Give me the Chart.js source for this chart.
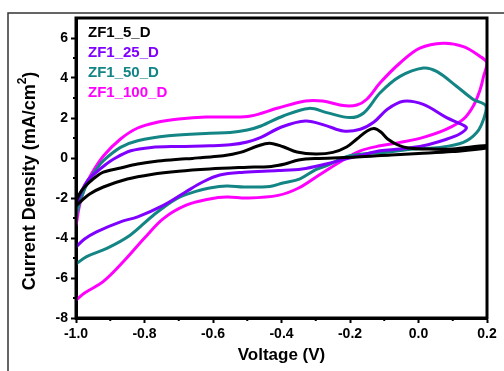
<!DOCTYPE html>
<html>
<head>
<meta charset="utf-8">
<script src="https://cdn.jsdelivr.net/npm/chart.js@4.4.1/dist/chart.umd.min.js"></script>
<style>
  html, body { margin: 0; padding: 0; background: #fff; }
  canvas { display: block; }
</style>
</head>
<body>
<canvas id="myChart" width="504" height="371"></canvas>
<script>
const seriesNames = ['ZF1_5_D', 'ZF1_25_D', 'ZF1_50_D', 'ZF1_100_D'];
const seriesColors = ['#000000', '#7f00ff', '#148585', '#ff00ff'];

// each loop: anodic sweep (-1.0 -> 0.2) then cathodic sweep back to -1.0
const volt5 = [-1.0, -0.99, -0.975, -0.95, -0.92, -0.87, -0.82, -0.76, -0.70, -0.66, -0.63, -0.57, -0.52, -0.47, -0.435, -0.395, -0.355, -0.30, -0.25, -0.21, -0.18, -0.15, -0.13, -0.11, -0.09, -0.06, -0.03, 0.02, 0.1, 0.2,
  0.2, 0.1, 0.0, -0.08, -0.18, -0.29, -0.35, -0.39, -0.43, -0.51, -0.61, -0.70, -0.78, -0.85, -0.92, -0.96, -0.985, -1.0];
const curr5 = [-2.2, -1.8, -1.45, -1.05, -0.71, -0.5, -0.3, -0.15, -0.06, -0.02, 0.03, 0.11, 0.28, 0.6, 0.74, 0.56, 0.3, 0.2, 0.28, 0.55, 0.95, 1.35, 1.47, 1.3, 0.95, 0.65, 0.5, 0.45, 0.45, 0.62,
  0.5, 0.32, 0.22, 0.15, 0.05, -0.02, -0.1, -0.3, -0.42, -0.47, -0.55, -0.66, -0.82, -1.05, -1.45, -1.8, -2.15, -2.4];

const volt25 = [-1.0, -0.985, -0.965, -0.94, -0.915, -0.89, -0.84, -0.78, -0.70, -0.61, -0.55, -0.50, -0.46, -0.40, -0.33, -0.27, -0.22, -0.17, -0.13, -0.09, -0.044, 0.014, 0.082, 0.13, 0.14,
  0.12, 0.082, 0.014, -0.054, -0.112, -0.17, -0.22, -0.27, -0.34, -0.41, -0.51, -0.58, -0.63, -0.68, -0.745, -0.82, -0.87, -0.94, -0.975, -1.0];
const curr25 = [-2.4, -1.7, -1.1, -0.7, -0.35, -0.05, 0.36, 0.53, 0.58, 0.61, 0.66, 0.8, 1.03, 1.55, 1.85, 1.62, 1.35, 1.44, 1.8, 2.45, 2.84, 2.68, 2.02, 1.65, 1.5,
  1.2, 0.94, 0.61, 0.45, 0.36, 0.13, -0.08, -0.3, -0.55, -0.63, -0.71, -0.85, -1.2, -1.7, -2.37, -2.94, -3.19, -3.69, -4.05, -4.45];

const volt50 = [-1.0, -0.985, -0.965, -0.94, -0.92, -0.87, -0.82, -0.73, -0.61, -0.55, -0.50, -0.46, -0.395, -0.32, -0.268, -0.2, -0.16, -0.112, -0.054, 0.014, 0.053, 0.111, 0.16, 0.197,
  0.19, 0.17, 0.131, 0.063, -0.015, -0.083, -0.2, -0.268, -0.30, -0.346, -0.396, -0.434, -0.51, -0.56, -0.61, -0.65, -0.706, -0.774, -0.842, -0.91, -0.969, -1.0];
const curr50 = [-2.9, -2.0, -1.2, -0.55, -0.13, 0.53, 0.86, 1.11, 1.24, 1.27, 1.4, 1.6, 2.1, 2.48, 2.27, 2.02, 2.25, 3.26, 4.08, 4.5, 4.33, 3.59, 2.93, 2.6,
  1.94, 1.27, 0.78, 0.53, 0.45, 0.3, 0.11, -0.38, -0.58, -1.04, -1.25, -1.42, -1.45, -1.4, -1.5, -1.67, -2.03, -2.86, -3.86, -4.52, -4.93, -5.3];

const volt100 = [-1.0, -0.99, -0.975, -0.955, -0.92, -0.87, -0.82, -0.76, -0.70, -0.62, -0.55, -0.49, -0.41, -0.33, -0.28, -0.22, -0.18, -0.15, -0.112, -0.054, 0.004, 0.072, 0.131, 0.18, 0.2,
  0.19, 0.18, 0.16, 0.131, 0.082, 0.014, -0.054, -0.112, -0.17, -0.22, -0.29, -0.35, -0.41, -0.5, -0.56, -0.61, -0.68, -0.745, -0.80, -0.86, -0.92, -0.975, -1.0];
const curr100 = [-3.4, -2.4, -1.5, -0.8, 0.1, 0.95, 1.5, 1.8, 1.95, 2.05, 2.05, 2.1, 2.5, 2.85, 2.85, 2.62, 2.65, 2.95, 3.76, 4.75, 5.49, 5.74, 5.57, 5.08, 4.75,
  4.08, 3.42, 2.6, 1.94, 1.44, 1.03, 0.78, 0.61, 0.36, -0.1, -0.85, -1.5, -1.87, -2.0, -1.95, -2.05, -2.37, -3.03, -4.0, -5.15, -6.17, -6.75, -7.1];

const xTicks = [-1.0, -0.8, -0.6, -0.4, -0.2, 0.0, 0.2];
const xMinor = [-0.9, -0.7, -0.5, -0.3, -0.1, 0.1];
const yTicks = [-8, -6, -4, -2, 0, 2, 4, 6];
const yMinor = [-7, -5, -3, -1, 1, 3, 5];

const FONT = "'Liberation Sans', Arial, sans-serif";
Chart.defaults.font.family = FONT;
Chart.defaults.color = '#000';

const loops = [[volt5, curr5], [volt25, curr25], [volt50, curr50], [volt100, curr100]];

const datasets = loops.map(function(l, i) {
    return {
        label: seriesNames[i],
        data: l[0].map((v, k) => ({x: v, y: l[1][k]})),
        showLine: true,
        borderColor: seriesColors[i],
        backgroundColor: seriesColors[i],
        borderWidth: 3,
        pointRadius: 0,
        tension: 0.35,
        fill: false
    };
});

// frame, minor ticks, text legend and y title with superscript
const extras = {
    id: 'extras',
    beforeDraw(chart) {
        const ctx = chart.ctx;
        ctx.save();
        ctx.strokeStyle = '#333';
        ctx.lineWidth = 1.5;
        ctx.beginPath();
        ctx.moveTo(8, chart.height);
        ctx.lineTo(8, 13);
        ctx.lineTo(chart.width, 13);
        ctx.stroke();
        ctx.restore();
    },
    afterDraw(chart) {
        const ctx = chart.ctx, a = chart.chartArea;
        const xs = chart.scales.x, ys = chart.scales.y;
        ctx.save();
        ctx.strokeStyle = '#000';
        ctx.lineWidth = 3;
        ctx.strokeRect(a.left, a.top, a.right - a.left, a.bottom - a.top);

        ctx.lineWidth = 2;
        ctx.beginPath();
        xMinor.forEach(v => {
            const p = xs.getPixelForValue(v);
            ctx.moveTo(p, a.bottom);
            ctx.lineTo(p, a.bottom + 3);
        });
        yMinor.forEach(v => {
            const p = ys.getPixelForValue(v);
            ctx.moveTo(a.left, p);
            ctx.lineTo(a.left - 3, p);
        });
        ctx.stroke();

        ctx.font = 'bold 15px ' + FONT;
        ctx.textBaseline = 'middle';
        ctx.textAlign = 'left';
        chart.data.datasets.forEach((d, i) => {
            ctx.fillStyle = d.borderColor;
            ctx.fillText(d.label, a.left + 12, a.top + 15 + i * 20);
        });

        // y axis title
        const main = 'Current Density (mA/cm';
        ctx.font = 'bold 18px ' + FONT;
        const w1 = ctx.measureText(main).width;
        const w3 = ctx.measureText(')').width;
        ctx.font = 'bold 12px ' + FONT;
        const w2 = ctx.measureText('2').width;
        const total = w1 + w2 + w3;
        const cy = (a.top + a.bottom) / 2 + 13;
        ctx.translate(30, cy + total / 2);
        ctx.rotate(-Math.PI / 2);
        ctx.fillStyle = '#000';
        ctx.font = 'bold 18px ' + FONT;
        ctx.fillText(main, 0, 0);
        ctx.font = 'bold 12px ' + FONT;
        ctx.fillText('2', w1, -7);
        ctx.font = 'bold 18px ' + FONT;
        ctx.fillText(')', w1 + w2, 0);
        ctx.restore();
    }
};

const ctx = document.getElementById('myChart').getContext('2d');
const myChart = new Chart(ctx, {
    type: 'scatter',
    data: { datasets: datasets },
    options: {
        responsive: false,
        animation: false,
        devicePixelRatio: 1,
        layout: { padding: { left: 0, top: 18, right: 17, bottom: 0 } },
        plugins: {
            legend: { display: false },
            tooltip: { enabled: false }
        },
        scales: {
            x: {
                type: 'linear',
                min: -1.0,
                max: 0.2,
                afterBuildTicks: s => { s.ticks = xTicks.map(v => ({value: v})); },
                afterFit: s => { s.height = 53; },
                ticks: {
                    callback: v => v.toFixed(1),
                    font: { size: 14, weight: 'bold' },
                    color: '#000',
                    padding: 3,
                    maxRotation: 0,
                    autoSkip: false
                },
                grid: { drawOnChartArea: false, tickLength: 5, tickWidth: 2, tickColor: '#000' },
                border: { color: '#000', width: 3 },
                title: {
                    display: true,
                    text: 'Voltage (V)',
                    font: { size: 17, weight: 'bold' },
                    color: '#000',
                    padding: { top: 0, bottom: 5 }
                }
            },
            y: {
                type: 'linear',
                min: -8,
                max: 7,
                afterBuildTicks: s => { s.ticks = yTicks.map(v => ({value: v})); },
                afterFit: s => { s.width = 76; },
                ticks: {
                    callback: v => String(v),
                    font: { size: 14, weight: 'bold' },
                    color: '#000',
                    padding: 3,
                    autoSkip: false
                },
                grid: { drawOnChartArea: false, tickLength: 5, tickWidth: 2, tickColor: '#000' },
                border: { color: '#000', width: 3 }
            }
        }
    },
    plugins: [extras]
});
</script>
</body>
</html>
